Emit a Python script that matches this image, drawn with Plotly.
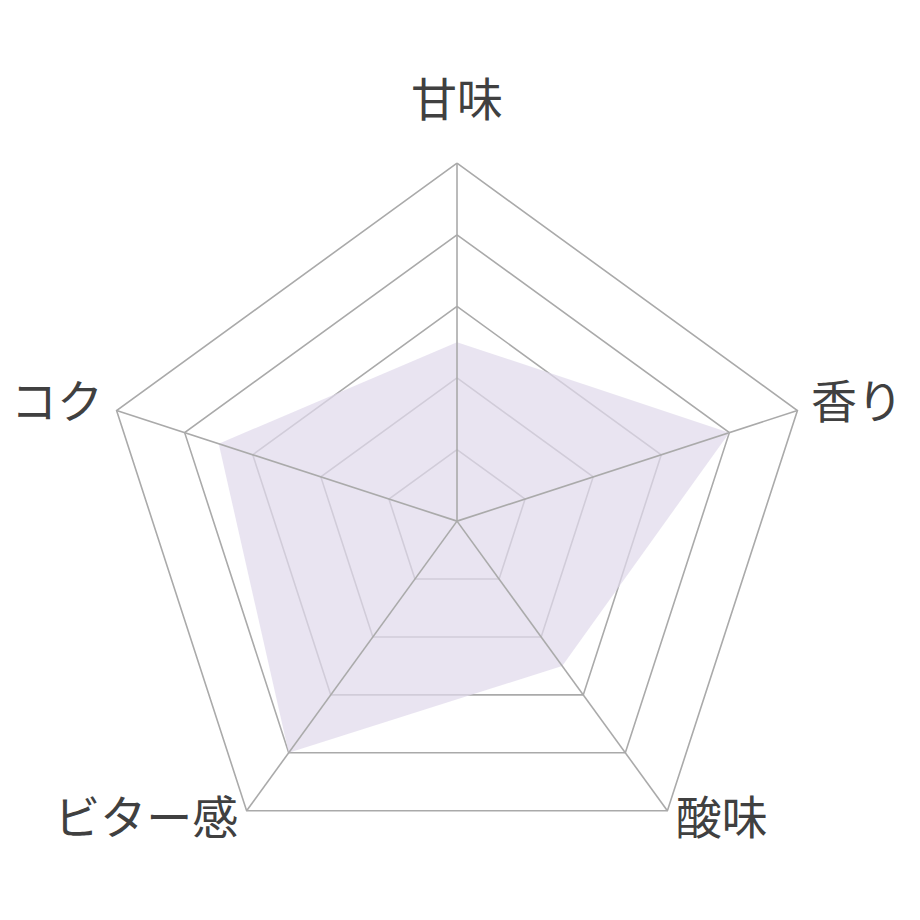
import plotly.graph_objects as go

# 味の評価（0〜5）
categories = ["甘味", "香り", "酸味", "ビター感", "コク"]
scores = [2.5, 4, 2.5, 4, 3.5]
levels = [1, 2, 3, 4, 5]
scale_max = 5

grid_color = "#aaaaaa"
label_font = "Noto Sans CJK JP"

# where each axis name sits relative to its vertex
label_r = [5.5, 5.2, 5.2, 5.2, 5.2]
label_pos = ["top center", "middle right", "middle right", "middle left", "middle left"]

closed = categories + categories[:1]

fig = go.Figure()

# pentagon grid rings (under the fill)
for lvl in levels:
    fig.add_trace(go.Scatterpolar(
        r=[lvl] * len(closed),
        theta=closed,
        mode="lines",
        line=dict(color=grid_color, width=1.6),
        hoverinfo="skip",
        showlegend=False,
    ))

# filled taste profile
fig.add_trace(go.Scatterpolar(
    r=scores + scores[:1],
    theta=closed,
    mode="lines",
    fill="toself",
    fillcolor="rgba(224,218,236,0.72)",
    line=dict(color="rgba(0,0,0,0)", width=0),
    hoverinfo="skip",
    showlegend=False,
))

# spokes drawn above the fill, like the original
for cat in categories:
    fig.add_trace(go.Scatterpolar(
        r=[0, scale_max],
        theta=[cat, cat],
        mode="lines",
        line=dict(color=grid_color, width=1.6),
        hoverinfo="skip",
        showlegend=False,
    ))

# axis names
fig.add_trace(go.Scatterpolar(
    r=label_r,
    theta=categories,
    mode="text",
    text=categories,
    textposition=label_pos,
    textfont=dict(family=label_font, size=46, color="#404040"),
    hoverinfo="skip",
    showlegend=False,
    cliponaxis=False,
))

fig.update_layout(
    width=920,
    height=920,
    paper_bgcolor="white",
    plot_bgcolor="white",
    margin=dict(l=0, r=0, t=0, b=0),
    showlegend=False,
    polar=dict(
        domain=dict(x=[0.0522, 0.9239], y=[0.0065, 0.878]),
        bgcolor="white",
        gridshape="linear",
        radialaxis=dict(
            range=[0, 5.6],
            showgrid=False,
            showticklabels=False,
            showline=False,
            ticks="",
        ),
        angularaxis=dict(
            rotation=90,
            direction="clockwise",
            categoryorder="array",
            categoryarray=categories,
            showline=False,
            showgrid=False,
            ticks="",
            showticklabels=False,
        ),
    ),
)

fig.write_html("out.html")
